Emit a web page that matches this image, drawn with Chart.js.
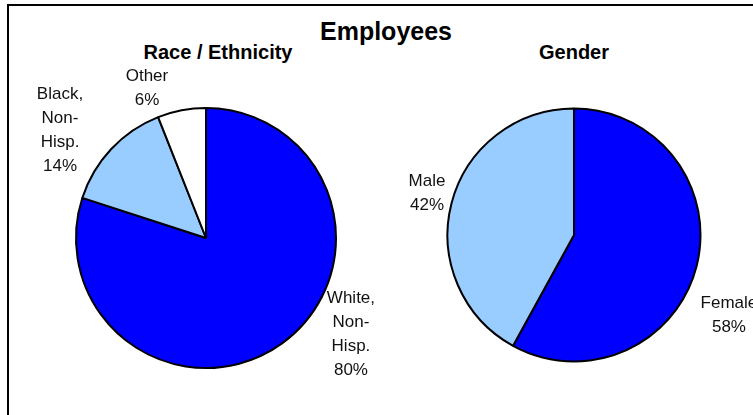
<!DOCTYPE html>
<html>
<head>
<meta charset="utf-8">
<script src="https://cdn.jsdelivr.net/npm/chart.js@4/dist/chart.umd.min.js"></script>
<style>
  html, body { margin: 0; padding: 0; background: #fff; overflow: hidden; }
  body { width: 753px; height: 415px; position: relative; font-family: "Liberation Sans", Arial, sans-serif; }
  #frame { position: absolute; left: 7px; top: 4px; width: 800px; height: 500px; border: 2px solid #000; }
  .ttl { position: absolute; width: 300px; text-align: center; font-weight: bold; line-height: 1; color: #000; }
  canvas { position: absolute; left: 0; top: 0; }
</style>
</head>
<body>
<div id="frame"></div>
<div class="ttl" style="left:236px; top:19px; font-size:25px;">Employees</div>
<div class="ttl" style="left:68px; top:42px; font-size:20px;">Race / Ethnicity</div>
<div class="ttl" style="left:424px; top:42px; font-size:20px;">Gender</div>
<canvas id="raceChart" width="753" height="415"></canvas>
<canvas id="genderChart" width="753" height="415"></canvas>
<script>
// data
const raceLabels = ['White, Non-Hisp.', 'Black, Non-Hisp.', 'Other']
const raceValues = [80, 14, 6]
const genderLabels = ['Female', 'Male']
const genderValues = [58, 42]

const raceColors = ['#0000FF', '#99CCFF', '#FFFFFF']
const genderColors = ['#0000FF', '#99CCFF']

// where each label block sits, in units of the pie radius from its centre
const raceLabelOffsets = [[1.115, 0.738], [-1.123, -0.831], [-0.454, -1.154]]
const genderLabelOffsets = [[1.225, 0.632], [-1.162, -0.332]]

const W = 753, H = 415, BW = 2

function wrapLabel(text) {
    return text.replace(/-/g, '- ').split(' ').filter(s => s.length)
}

const sliceLabels = {
    id: 'sliceLabels',
    afterDatasetsDraw(chart, args, opts) {
        const ctx = chart.ctx
        const meta = chart.getDatasetMeta(0)
        const values = chart.data.datasets[0].data
        ctx.save()
        ctx.font = '17px "Liberation Sans", Arial, sans-serif'
        ctx.fillStyle = '#111'
        ctx.textAlign = 'center'
        ctx.textBaseline = 'middle'
        meta.data.forEach((arc, i) => {
            const r = arc.outerRadius
            const cx = arc.x + opts.offsets[i][0] * r
            const cy = arc.y + opts.offsets[i][1] * r
            const lines = wrapLabel(chart.data.labels[i]).concat([values[i] + '%'])
            const lh = 24
            lines.forEach((ln, j) => {
                ctx.fillText(ln, cx, cy + (j - (lines.length - 1) / 2) * lh)
            })
        })
        ctx.restore()
    }
}

function renderPie(id, labels, values, colors, offsets, centerX, centerY, radius) {
    const size = 2 * radius + BW
    const left = centerX - size / 2
    const top = centerY - size / 2
    let ctx = document.getElementById(id).getContext('2d')
    return new Chart(ctx, {
        type: 'pie',
        data: {
            labels: labels,
            datasets: [{
                data: values,
                backgroundColor: colors,
                borderColor: '#000',
                borderWidth: BW
            }]
        },
        options: {
            responsive: false,
            animation: false,
            layout: {
                padding: { left: left, top: top, right: W - left - size, bottom: H - top - size }
            },
            plugins: {
                legend: { display: false },
                tooltip: { enabled: false },
                sliceLabels: { offsets: offsets }
            }
        },
        plugins: [sliceLabels]
    })
}

renderPie('raceChart', raceLabels, raceValues, raceColors, raceLabelOffsets, 206, 238, 130)
renderPie('genderChart', genderLabels, genderValues, genderColors, genderLabelOffsets, 574, 235, 126.5)
</script>
</body>
</html>
